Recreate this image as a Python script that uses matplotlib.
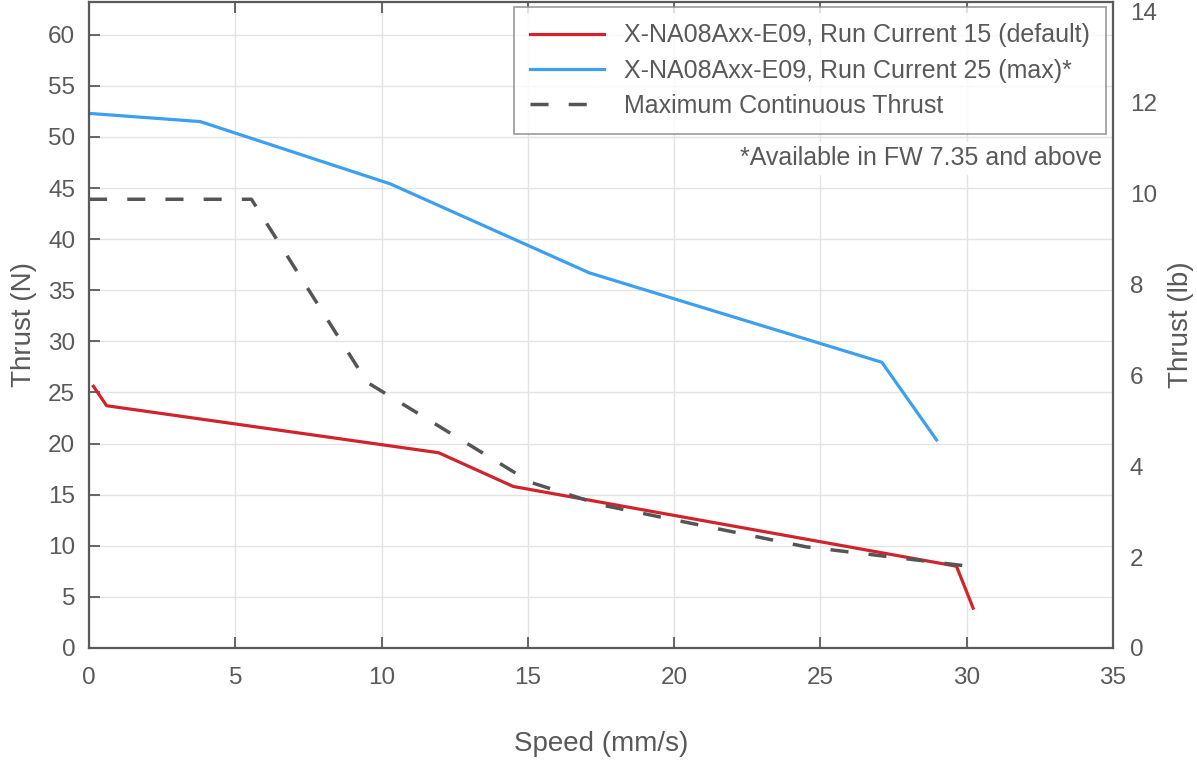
import matplotlib.pyplot as plt

plt.rcParams['font.family'] = ['Liberation Sans', 'DejaVu Sans']

# Run Current 15 (default)
speed_15 = [0.15, 0.6, 11.95, 14.5, 29.65, 30.22]
thrust_15 = [25.6, 23.7, 19.1, 15.8, 8.0, 3.9]

# Run Current 25 (max)
speed_25 = [0.0, 3.8, 10.3, 17.1, 27.1, 28.97]
thrust_25 = [52.3, 51.5, 45.4, 36.7, 27.95, 20.35]

# Maximum continuous thrust
speed_cont = [0.0, 5.55, 9.5, 15.1, 17.5, 24.5, 30.5]
thrust_cont = [43.9, 43.9, 26.0, 16.2, 14.0, 9.9, 7.85]

N_TO_LB = 0.224809
text_col = '#595959'
spine_col = '#5a5a5a'

fig = plt.figure(figsize=(11.97, 7.6), dpi=100)
ax = fig.add_axes([0.0744, 0.1474, 0.8554, 0.85])

ax.plot(speed_15, thrust_15, color='#d0232b', lw=2.3,
        label='X-NA08Axx-E09, Run Current 15 (default)')
ax.plot(speed_25, thrust_25, color='#3c9ff0', lw=2.3,
        label='X-NA08Axx-E09, Run Current 25 (max)*')
ax.plot(speed_cont, thrust_cont, color='#555555', lw=2.5, dashes=(5.2, 5.8),
        label='Maximum Continuous Thrust')

ax.set_xlim(0, 35)
ax.set_ylim(0, 63.2)
ax.set_xticks(range(0, 36, 5))
ax.set_yticks(range(0, 61, 5))
ax.grid(True, color='#e3e3e3', lw=1)
ax.set_axisbelow(True)
ax.tick_params(direction='in', length=8, width=1.3, colors=spine_col,
               labelcolor=text_col, labelsize=17.5, top=True, pad=10)
ax.tick_params(axis='x', pad=14)
for s in ax.spines.values():
    s.set_color(spine_col)
    s.set_linewidth(1.6)

ax.set_xlabel('Speed (mm/s)', fontsize=20, color=text_col, labelpad=30)
ax.set_ylabel('Thrust (N)', fontsize=20, color=text_col, labelpad=8)

# secondary axis in pounds
ax2 = ax.twinx()
ax2.set_ylim(0, 63.2 * N_TO_LB)
ax2.set_yticks(range(0, 15, 2))
ax2.tick_params(direction='in', length=0, colors=spine_col,
                labelcolor=text_col, labelsize=17.5, pad=12)
for s in ax2.spines.values():
    s.set_visible(False)
ax2.set_ylabel('Thrust (lb)', fontsize=20, color=text_col, labelpad=8)

leg = ax.legend(loc='upper right', fontsize=18, frameon=True, fancybox=False,
                edgecolor='#8a8a8a', handlelength=2.95, handletextpad=0.8,
                borderpad=0.65, labelspacing=0.45, borderaxespad=0,
                bbox_to_anchor=(0.9935, 0.992))
leg.get_frame().set_linewidth(1.3)
for t in leg.get_texts():
    t.set_color(text_col)

ax.text(0.9895, 0.758, '*Available in FW 7.35 and above', transform=ax.transAxes,
        ha='right', va='center', fontsize=18, color=text_col,
        bbox=dict(facecolor='white', edgecolor='none', pad=3))

fig.savefig('out.png', dpi=100)
